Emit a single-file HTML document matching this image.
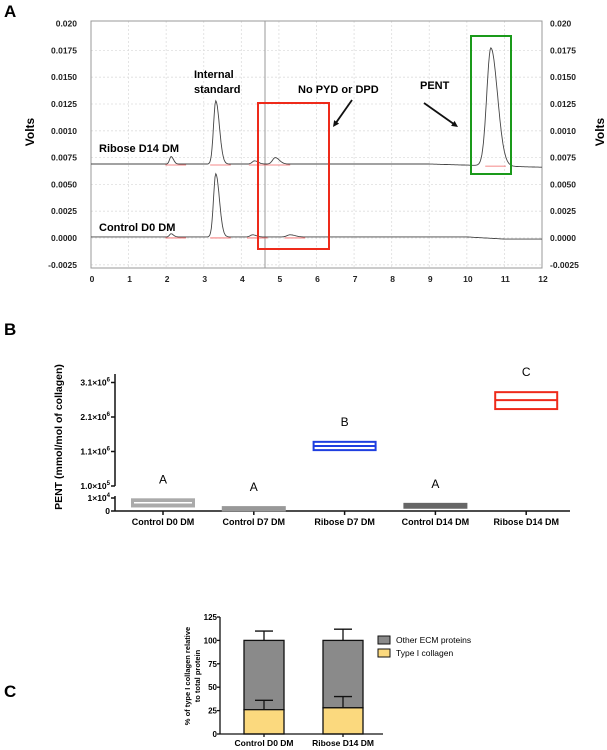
<!DOCTYPE html>
<html><head><meta charset="utf-8">
<style>
html,body{margin:0;padding:0;background:#fff;}
svg{display:block;font-family:"Liberation Sans",Arial,sans-serif;}
.b{font-weight:bold;}
</style></head>
<body>
<svg id="fig" width="607" height="750" viewBox="0 0 607 750">
<g id="panelA"></g>
<g id="panelB"></g>
<g id="panelC"></g>
</svg>
<script>
// ---------- Panel A data ----------
const aYTicks = [0.020,0.0175,0.0150,0.0125,0.0100,0.0075,0.0050,0.0025,0.0000,-0.0025];
const aYTickLabels = ["0.020","0.0175","0.0150","0.0125","0.0010","0.0075","0.0050","0.0025","0.0000","-0.0025"];
const aXTicks = [0,1,2,3,4,5,6,7,8,9,10,11,12];
const riboseBaseline = [0.0069,0.0069,0.0069,0.0069,0.0069,0.0069,0.0069,0.0069,0.0069,0.0069,0.0068,0.0067,0.0066];
const ribosePeakTimes = [2.13,3.32,4.35,4.9,10.64];
const ribosePeakHeights = [0.0007,0.0059,0.0003,0.0006,0.0110];
const ribosePeakWidths = [0.04,0.06,0.06,0.07,0.11];
const controlBaseline = [0.0001,0.0001,0.0001,0.0001,0.0001,0.0001,0.0001,0.0001,0.0001,0.0001,0.0001,-0.0001,-0.0001];
const controlPeakTimes = [2.13,3.32,4.3,5.3];
const controlPeakHeights = [0.0003,0.0059,0.0002,0.0002];
const controlPeakWidths = [0.04,0.06,0.06,0.08];

// ---------- Panel B data ----------
const bCategories = ["Control D0 DM","Control D7 DM","Ribose D7 DM","Control D14 DM","Ribose D14 DM"];
const bMin = [3500,500,1140000,2500,2330000];
const bMax = [9000,3000,1380000,5500,2820000];
const bMean = [6300,1800,1260000,4000,2590000];
const bLetters = ["A","A","B","A","C"];
const bColors = ["#aaaaaa","#999999","#1f3fe0","#666666","#ee2a1a"];
const bMeanColors = ["#ffffff","#999999","#1f3fe0","#666666","#ee2a1a"];
const bUpperTicks = [100000,1100000,2100000,3100000];
const bUpperTickLabels = ["1.0×10","1.1×10","2.1×10","3.1×10"];
const bUpperTickExp = ["5","6","6","6"];
const bLowerTicks = [0,10000];

// ---------- Panel C data ----------
const cCategories = ["Control D0 DM","Ribose D14 DM"];
const cCollagen = [26,28];
const cCollagenErr = [10,12];
const cTotal = [100,100];
const cTotalErr = [10,12];
const cYTicks = [0,25,50,75,100,125];

const NS="http://www.w3.org/2000/svg";
function mk(parent,tag,attrs,text){const e=document.createElementNS(NS,tag);for(const k in attrs)e.setAttribute(k,attrs[k]);if(text!==undefined)e.textContent=text;parent.appendChild(e);return e;}

// ===== Panel A =====
(function(){
const g=document.getElementById('panelA');
const L=91,R=542,T=21,B=268;
const xA=t=>L+(t/12)*(R-L);
const yA=v=>238-v*10720;
let e=mk(g,'text',{x:4,y:17,'font-size':17,class:'b'},'A');


aYTicks.forEach(v=>{ if(v===0.020)return;
  e=mk(g,'line',{x1:L,x2:R,y1:yA(v),y2:yA(v),stroke:'#ddd','stroke-width':0.8,'stroke-dasharray':'2,2'});
  });
aXTicks.forEach(t=>{ if(t===0||t===12)return;
  e=mk(g,'line',{x1:xA(t),x2:xA(t),y1:T,y2:B,stroke:'#ddd','stroke-width':0.8,'stroke-dasharray':'2,2'});
  });
e=mk(g,'rect',{x:L,y:T,width:R-L,height:B-T,fill:'none',stroke:'#999','stroke-width':1});

e=mk(g,'line',{x1:265,x2:265,y1:T,y2:B,stroke:'#999','stroke-width':1});

aYTicks.forEach((v,i)=>{
  e=mk(g,'text',{x:77,y:yA(v)+3,'font-size':8.5,'text-anchor':'end',class:'b',fill:'#222'},aYTickLabels[i]);
  
  e=mk(g,'text',{x:550,y:yA(v)+3,'font-size':8.5,class:'b',fill:'#222'},aYTickLabels[i]);
  
});
aXTicks.forEach(t=>{
  e=mk(g,'text',{x:xA(t)+1,y:282,'font-size':8.5,'text-anchor':'middle',class:'b',fill:'#222'},String(t));
  
});
e=mk(g,'text',{x:34,y:132,'font-size':12,class:'b','text-anchor':'middle',transform:'rotate(-90 34 132)'},'Volts');

e=mk(g,'text',{x:604,y:132,'font-size':12,class:'b','text-anchor':'middle',transform:'rotate(-90 604 132)'},'Volts');

function trace(base,pt,ph,pw,name){
  let d='';
  for(let i=0;i<=600;i++){
    const t=i*12/600;
    const k=Math.min(11,Math.floor(t)),f=t-k;
    let v=base[k]+(base[k+1]-base[k])*f;
    for(let j=0;j<pt.length;j++){const z=(t-pt[j])/pw[j];const s=z>0?z/1.6:z;v+=ph[j]*Math.exp(-s*s/2);}
    d+=(i?'L':'M')+xA(t).toFixed(1)+','+yA(v).toFixed(1);
  }
  const p=mk(g,'path',{d:d,fill:'none',stroke:'#444','stroke-width':0.9});
  
  pt.forEach((c,j)=>{
    const k=Math.floor(c),vb=base[k];
    const l=mk(g,'line',{x1:xA(c-0.15),x2:xA(c+0.4),y1:yA(vb)+1,y2:yA(vb)+1,stroke:'#f06060','stroke-width':0.8});
    
  });
}
trace(riboseBaseline,ribosePeakTimes,ribosePeakHeights,ribosePeakWidths,'ribose-d14-trace');
trace(controlBaseline,controlPeakTimes,controlPeakHeights,controlPeakWidths,'control-d0-trace');
e=mk(g,'text',{x:99,y:152,'font-size':11,class:'b'},'Ribose D14 DM');

e=mk(g,'text',{x:99,y:231,'font-size':11,class:'b'},'Control D0 DM');

e=mk(g,'text',{x:194,y:78,'font-size':11,class:'b'},'Internal');

e=mk(g,'text',{x:194,y:93,'font-size':11,class:'b'},'standard');

e=mk(g,'text',{x:298,y:93,'font-size':11,class:'b'},'No PYD or DPD');

e=mk(g,'text',{x:420,y:89,'font-size':11,class:'b'},'PENT');

e=mk(g,'rect',{x:258,y:103,width:71,height:146,fill:'none',stroke:'#ee2a1a','stroke-width':2});

e=mk(g,'rect',{x:471,y:36,width:40,height:138,fill:'none',stroke:'#1a9a1a','stroke-width':2});

function arrow(x1,y1,x2,y2,name){
  const a=Math.atan2(y2-y1,x2-x1),h=7;
  const ln=mk(g,'line',{x1:x1,y1:y1,x2:x2-Math.cos(a)*3,y2:y2-Math.sin(a)*3,stroke:'#111','stroke-width':1.8});
  
  const p=mk(g,'polygon',{points:`${x2},${y2} ${x2-h*Math.cos(a-0.45)},${y2-h*Math.sin(a-0.45)} ${x2-h*Math.cos(a+0.45)},${y2-h*Math.sin(a+0.45)}`,fill:'#111'});
  
}
arrow(352,100,333,127,'no-pyd-arrow');
arrow(424,103,458,127,'pent-arrow');
})();

// ===== Panel B =====
(function(){
const g=document.getElementById('panelB');
const AX=115, XR=570, X0=511;
const yU=v=>486-(v-100000)/1000000*34.5;
const yL=v=>511-v/10000*13;
const yB=v=>v>=100000?yU(v):yL(v);
const xc=i=>163+i*90.8;
let e=mk(g,'text',{x:4,y:335,'font-size':17,class:'b'},'B');

e=mk(g,'line',{x1:AX,x2:AX,y1:374,y2:486,stroke:'#111','stroke-width':1.5});

e=mk(g,'line',{x1:AX,x2:AX,y1:496,y2:X0,stroke:'#111','stroke-width':1.5});

e=mk(g,'line',{x1:AX,x2:XR,y1:X0,y2:X0,stroke:'#111','stroke-width':1.5});

bUpperTicks.forEach((v,i)=>{
  const y=yU(v);
  e=mk(g,'line',{x1:AX-4,x2:AX,y1:y,y2:y,stroke:'#111','stroke-width':1.5});
  
  const t=mk(g,'text',{x:AX-5,y:y+3,'font-size':8.5,'text-anchor':'end',class:'b'});
  
  mk(t,'tspan',{},bUpperTickLabels[i]);
  mk(t,'tspan',{dy:-4,'font-size':6},bUpperTickExp[i]);
});
bLowerTicks.forEach(v=>{
  const y=yL(v);
  e=mk(g,'line',{x1:AX-4,x2:AX,y1:y,y2:y,stroke:'#111','stroke-width':1.5});
  
  const t=mk(g,'text',{x:AX-5,y:y+3,'font-size':8.5,'text-anchor':'end',class:'b'});
  
  if(v===0){t.textContent='0';}else{mk(t,'tspan',{},'1×10');mk(t,'tspan',{dy:-4,'font-size':6},'4');}
});
e=mk(g,'text',{x:62,y:437,'font-size':10.5,class:'b','text-anchor':'middle',transform:'rotate(-90 62 437)'},'PENT (mmol/mol of collagen)');

bCategories.forEach((c,i)=>{
  const x=xc(i);
  e=mk(g,'line',{x1:x,x2:x,y1:X0,y2:X0+4,stroke:'#111','stroke-width':1.5});
  
  e=mk(g,'text',{x:x,y:525,'font-size':9,'text-anchor':'middle',class:'b'},c);
  
  const y1=yB(bMax[i]),y2=yB(bMin[i]),w=62;
  const small=bMax[i]<100000;
  e=mk(g,'rect',{x:x-w/2,y:y1,width:w,height:Math.max(2,y2-y1),fill:small?bColors[i]:'none',stroke:bColors[i],'stroke-width':2});
  
  e=mk(g,'line',{x1:x-w/2+(small?2:0),x2:x+w/2-(small?2:0),y1:yB(bMean[i]),y2:yB(bMean[i]),stroke:bMeanColors[i],'stroke-width':small?1.5:2});
  
  e=mk(g,'text',{x:x,y:y1-16,'font-size':12,'text-anchor':'middle'},bLetters[i]);
  
});
})();

// ===== Panel C =====
(function(){
const g=document.getElementById('panelC');
const AX=220,XR=383,X0=734;
const yC=v=>X0-v*0.936;
const xcs=[264,343],w=40;
let e=mk(g,'text',{x:4,y:697,'font-size':17,class:'b'},'C');

cCategories.forEach((c,i)=>{
  const x=xcs[i];
  e=mk(g,'line',{x1:x,x2:x,y1:yC(cTotal[i]),y2:yC(cTotal[i]+cTotalErr[i]),stroke:'#111','stroke-width':1.3});
  
  e=mk(g,'line',{x1:x-9,x2:x+9,y1:yC(cTotal[i]+cTotalErr[i]),y2:yC(cTotal[i]+cTotalErr[i]),stroke:'#111','stroke-width':1.3});
  
  e=mk(g,'rect',{x:x-w/2,y:yC(cTotal[i]),width:w,height:yC(cCollagen[i])-yC(cTotal[i]),fill:'#8a8a8a',stroke:'#111','stroke-width':1.3});
  
  e=mk(g,'rect',{x:x-w/2,y:yC(cCollagen[i]),width:w,height:yC(0)-yC(cCollagen[i]),fill:'#fbd97e',stroke:'#111','stroke-width':1.3});
  
  e=mk(g,'line',{x1:x,x2:x,y1:yC(cCollagen[i]),y2:yC(cCollagen[i]+cCollagenErr[i]),stroke:'#111','stroke-width':1.3});
  
  e=mk(g,'line',{x1:x-9,x2:x+9,y1:yC(cCollagen[i]+cCollagenErr[i]),y2:yC(cCollagen[i]+cCollagenErr[i]),stroke:'#111','stroke-width':1.3});
  
  e=mk(g,'line',{x1:x,x2:x,y1:X0,y2:X0+3,stroke:'#111','stroke-width':1.3});
  
  e=mk(g,'text',{x:x,y:746,'font-size':8.5,'text-anchor':'middle',class:'b'},c);
  
});
e=mk(g,'line',{x1:AX,x2:AX,y1:yC(125),y2:X0,stroke:'#111','stroke-width':1.3});

e=mk(g,'line',{x1:AX,x2:XR,y1:X0,y2:X0,stroke:'#111','stroke-width':1.3});

cYTicks.forEach(v=>{
  e=mk(g,'line',{x1:AX-3,x2:AX,y1:yC(v),y2:yC(v),stroke:'#111','stroke-width':1.3});
  
  e=mk(g,'text',{x:AX-3,y:yC(v)+3,'font-size':8,'text-anchor':'end',class:'b'},String(v));
  
});
e=mk(g,'text',{x:190,y:676,'font-size':7.5,class:'b','text-anchor':'middle',transform:'rotate(-90 190 676)'},'% of type I collagen relative');

e=mk(g,'text',{x:200,y:676,'font-size':7.5,class:'b','text-anchor':'middle',transform:'rotate(-90 200 676)'},'to total protein');

e=mk(g,'rect',{x:378,y:636,width:12,height:8,fill:'#8a8a8a',stroke:'#111','stroke-width':1});

e=mk(g,'text',{x:396,y:643,'font-size':8.5},'Other ECM proteins');

e=mk(g,'rect',{x:378,y:649,width:12,height:8,fill:'#fbd97e',stroke:'#111','stroke-width':1});

e=mk(g,'text',{x:396,y:656,'font-size':8.5},'Type I collagen');

})();
</script>
</body></html>
